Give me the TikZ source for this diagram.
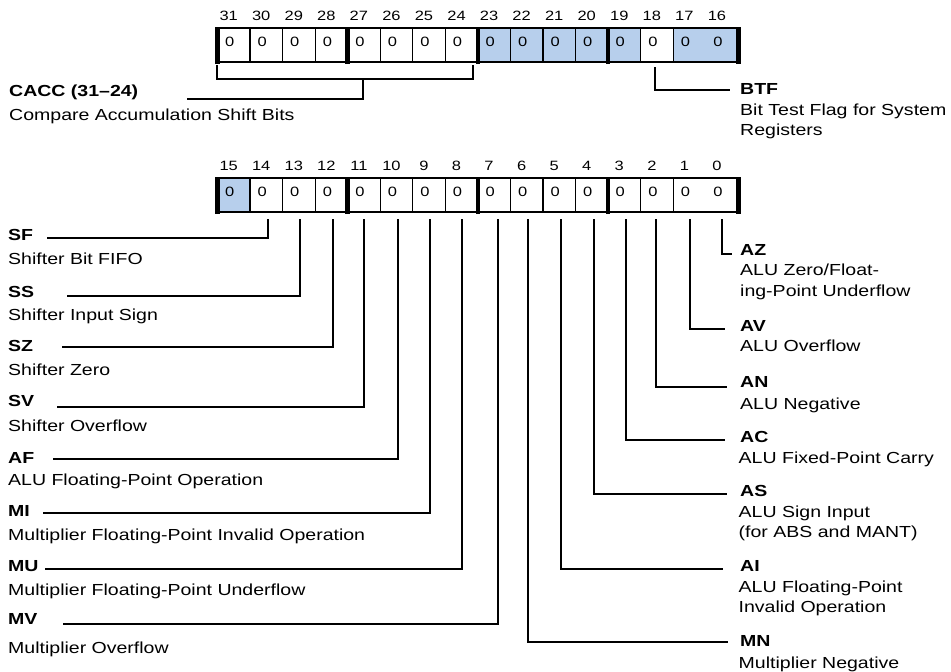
\documentclass[tikz,border=0pt]{standalone}
\usepackage{fontspec}
\setmainfont{Liberation Sans}[FakeStretch=1.22]
\definecolor{regblue}{RGB}{183,207,236}
\begin{document}
\begin{tikzpicture}[x=1pt,y=-1pt,
  cell/.style={rectangle, anchor=north west, minimum width=32.55pt, minimum height=33.4pt,
    inner ysep=0pt, inner xsep=7.4pt, text width=17.75pt, align=left,
    text height=10.5pt, text depth=7.1pt, font=\fontsize{13.5}{15}\selectfont},
  num/.style={anchor=base, inner sep=0pt, font=\fontsize{13.5}{15}\selectfont},
  frame/.style={line width=2pt},
  div/.style={line width=1.2pt},
  lead/.style={line width=2pt},
  lbl/.style={anchor=base west, inner sep=0pt, font=\fontsize{16}{20.5}\selectfont\bfseries},
  dsc/.style={anchor=base west, inner sep=0pt, align=left, font=\fontsize{16}{20.5}\selectfont}]
\useasboundingbox (0,0) rectangle (951,672);

% ---- top register (bits 31-16)
\foreach \b/\f [count=\i from 0] in {31/white,30/white,29/white,28/white,27/white,26/white,25/white,24/white,23/regblue,22/regblue,21/regblue,20/regblue,19/regblue,18/white,17/regblue,16/regblue}{
  \node[cell, fill=\f] (t\b) at ({217.5+32.55*\i},28.3) {0};
  \node[num] (nt\b) at ([xshift=-5.3pt,yshift=8.3pt]t\b.north) {\b};
}
\draw[frame] (t31.north west) -- (t16.north east);
\draw[frame] (t31.south west) -- (t16.south east);
\foreach \b in {30,29,28,26,25,24,22,21,20,18,17}
  \draw[div] (t\b.north west) -- (t\b.south west);
\foreach \b in {31,27,23,19}
  \fill ([xshift=-2.3pt,yshift=1.5pt]t\b.north west) rectangle ([xshift=2.3pt,yshift=-1.5pt]t\b.south west);
\fill ([xshift=-2.3pt,yshift=1.5pt]t16.north east) rectangle ([xshift=2.3pt,yshift=-1.5pt]t16.south east);

% ---- bottom register (bits 15-0)
\foreach \b/\f [count=\i from 0] in {15/regblue,14/white,13/white,12/white,11/white,10/white,9/white,8/white,7/white,6/white,5/white,4/white,3/white,2/white,1/white,0/white}{
  \node[cell, fill=\f] (b\b) at ({217.5+32.55*\i},178.3) {0};
  \node[num] (nb\b) at ([xshift=-5.3pt,yshift=8.3pt]b\b.north) {\b};
}
\draw[frame] (b15.north west) -- (b0.north east);
\draw[frame] (b15.south west) -- (b0.south east);
\foreach \b in {14,13,12,10,9,8,6,5,4,2,1}
  \draw[div] (b\b.north west) -- (b\b.south west);
\foreach \b in {15,11,7,3}
  \fill ([xshift=-2.3pt,yshift=1.5pt]b\b.north west) rectangle ([xshift=2.3pt,yshift=-1.5pt]b\b.south west);
\fill ([xshift=-2.3pt,yshift=1.5pt]b0.north east) rectangle ([xshift=2.3pt,yshift=-1.5pt]b0.south east);

% ---- top labels
\node[lbl] (lCACC) at (9,96.7) {CACC (31–24)};
\node[dsc] (dCACC) at (9,120.7) {Compare Accumulation Shift Bits};
\coordinate (brA) at (216.7,65);
\coordinate (brB) at (216.7,79);
\coordinate (brC) at (473.3,79);
\coordinate (brD) at (473.3,65);
\coordinate (cdrop) at (363,79);
\coordinate (eCACC) at (187,99);
\draw[lead] (brA) -- (brB) -- (brC) -- (brD);
\draw[lead] (cdrop) |- (eCACC);

\node[lbl] (lBTF) at (740,94) {BTF};
\node[dsc] (dBTF) at (740,135.5) {Bit Test Flag for System\\Registers};
\coordinate (eBTF) at (730,90);
\draw[lead] ([xshift=-1.9pt,yshift=-5pt]t18.south) |- (eBTF);

% ---- left labels (bits 14-7)
\foreach \b/\n/\dx/\ex/\ey/\lb/\db/\txt in {
  14/SF/1/46.7/238.3/240.7/264.3/Shifter Bit FIFO,
  13/SS/1/66.7/296/297.3/320/Shifter Input Sign,
  12/SZ/1/61.7/346.7/351.7/375/Shifter Zero,
  11/SV/-0.5/57/406.7/406.7/431/Shifter Overflow,
  10/AF/1/53/459.3/463.3/485/ALU Floating-Point Operation,
  9/MI/1/43/513.3/516.7/540/Multiplier Floating-Point Invalid Operation,
  8/MU/0/45/569.3/571.7/595/Multiplier Floating-Point Underflow,
  7/MV/4/63/624/624/653.3/Multiplier Overflow}{
  \node[lbl] (l\n) at (8,\lb) {\n};
  \node[dsc] (d\n) at (8,\db) {\txt};
  \coordinate (e\n) at (\ex,\ey);
  \draw[lead] ([xshift=\dx pt,yshift=-7.3pt]b\b.south) |- (e\n);
}

% ---- right labels (bits 0-6); multi-line texts placed by their last baseline
\node[lbl] (lAZ) at (740,255) {AZ};
\node[dsc] (dAZ) at (740,296) {ALU Zero/Float-\\ing-Point Underflow};
\node[lbl] (lAV) at (740,331.7) {AV};
\node[dsc] (dAV) at (740,351.7) {ALU Overflow};
\node[lbl] (lAN) at (740,387.3) {AN};
\node[dsc] (dAN) at (740,409.3) {ALU Negative};
\node[lbl] (lAC) at (740,442.7) {AC};
\node[dsc] (dAC) at (738.5,463.3) {ALU Fixed-Point Carry};
\node[lbl] (lAS) at (740,496.7) {AS};
\node[dsc] (dAS) at (738.5,537.8) {ALU Sign Input\\(for ABS and MANT)};
\node[lbl] (lAI) at (740,571) {AI};
\node[dsc] (dAI) at (738.5,612.5) {ALU Floating-Point\\Invalid Operation};
\node[lbl] (lMN) at (740,646.7) {MN};
\node[dsc] (dMN) at (738.5,668.3) {Multiplier Negative};
\foreach \b/\n/\dx/\ex/\ey in {0/AZ/0/731.7/254, 1/AV/0/725/329, 2/AN/-1/726.7/387.3,
  3/AC/1.5/725/440, 4/AS/2/726.7/494, 5/AI/2/723.3/569.3, 6/MN/1.5/728.3/641.7}{
  \coordinate (e\n) at (\ex,\ey);
  \draw[lead] ([xshift=\dx pt,yshift=-7.3pt]b\b.south) |- (e\n);
}
\end{tikzpicture}
\end{document}
